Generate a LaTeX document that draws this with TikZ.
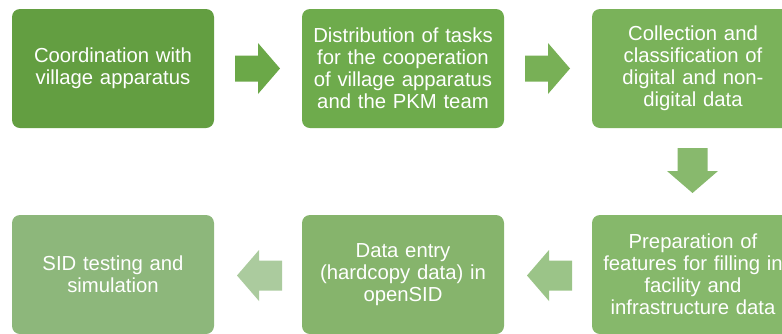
\documentclass[tikz,border=0pt]{standalone}
\usepackage{fontspec}
\setmainfont{Liberation Sans}
\begin{document}
\begin{tikzpicture}[x=1pt,y=-1pt,
  stepbox/.style={rounded corners=8pt, minimum width=202pt, minimum height=119pt,
    inner sep=0pt, text=white, align=center, text width=198pt,
    font=\fontsize{20.3}{22}\selectfont},
]
\definecolor{cA}{HTML}{639E41}
\definecolor{cB}{HTML}{6EAB4C}
\definecolor{cC}{HTML}{7AB25A}
\definecolor{cD}{HTML}{86B86B}
\definecolor{cE}{HTML}{86B46C}
\definecolor{cF}{HTML}{8DB77B}
\definecolor{aA}{HTML}{6BA848}
\definecolor{aB}{HTML}{78B056}
\definecolor{aC}{HTML}{88B96D}
\definecolor{aD}{HTML}{9BC488}
\definecolor{aE}{HTML}{ABCB9E}
\useasboundingbox (0,0) rectangle (782,333);
\clip (0,0) rectangle (782,333);
% process steps
\node[stepbox, fill=cA] (s1) at (113,68.5) {Coordination with\\village apparatus};
\node[stepbox, fill=cB] (s2) at (403,68.5) {Distribution of tasks\\for the cooperation\\of village apparatus\\and the PKM team};
\node[stepbox, fill=cC] (s3) at (693,68.5) {Collection and\\classification of\\digital and non-\\digital data};
\node[stepbox, fill=cD] (s4) at (693,274.5) {Preparation of\\features for filling in\\facility and\\infrastructure data};
\node[stepbox, fill=cE] (s5) at (403,274.5) {Data entry\\(hardcopy data) in\\openSID};
\node[stepbox, fill=cF] (s6) at (113,274.5) {SID testing and\\simulation};
% block arrows between the steps
\coordinate (a1) at (235,68.5);
\coordinate (a2) at (525,68.5);
\coordinate (a3) at (692.5,148);
\coordinate (a4) at (572,275.5);
\coordinate (a5) at (282,275.5);
\fill[aA] (a1) ++(0,-13) -- ++(23,0) -- ++(0,-12.5) -- ++(22,25.5) -- ++(-22,25.5) -- ++(0,-12.5) -- ++(-23,0) -- cycle;
\fill[aB] (a2) ++(0,-13) -- ++(23,0) -- ++(0,-12.5) -- ++(22,25.5) -- ++(-22,25.5) -- ++(0,-12.5) -- ++(-23,0) -- cycle;
\fill[aC] (a3) ++(-15,0) -- ++(0,23) -- ++(-10.5,0) -- ++(25.5,22) -- ++(25.5,-22) -- ++(-10.5,0) -- ++(0,-23) -- cycle;
\fill[aD] (a4) ++(0,-15) -- ++(-23,0) -- ++(0,-10.5) -- ++(-22,25.5) -- ++(22,25.5) -- ++(0,-10.5) -- ++(23,0) -- cycle;
\fill[aE] (a5) ++(0,-15) -- ++(-23,0) -- ++(0,-10.5) -- ++(-22,25.5) -- ++(22,25.5) -- ++(0,-10.5) -- ++(23,0) -- cycle;
\end{tikzpicture}
\end{document}
